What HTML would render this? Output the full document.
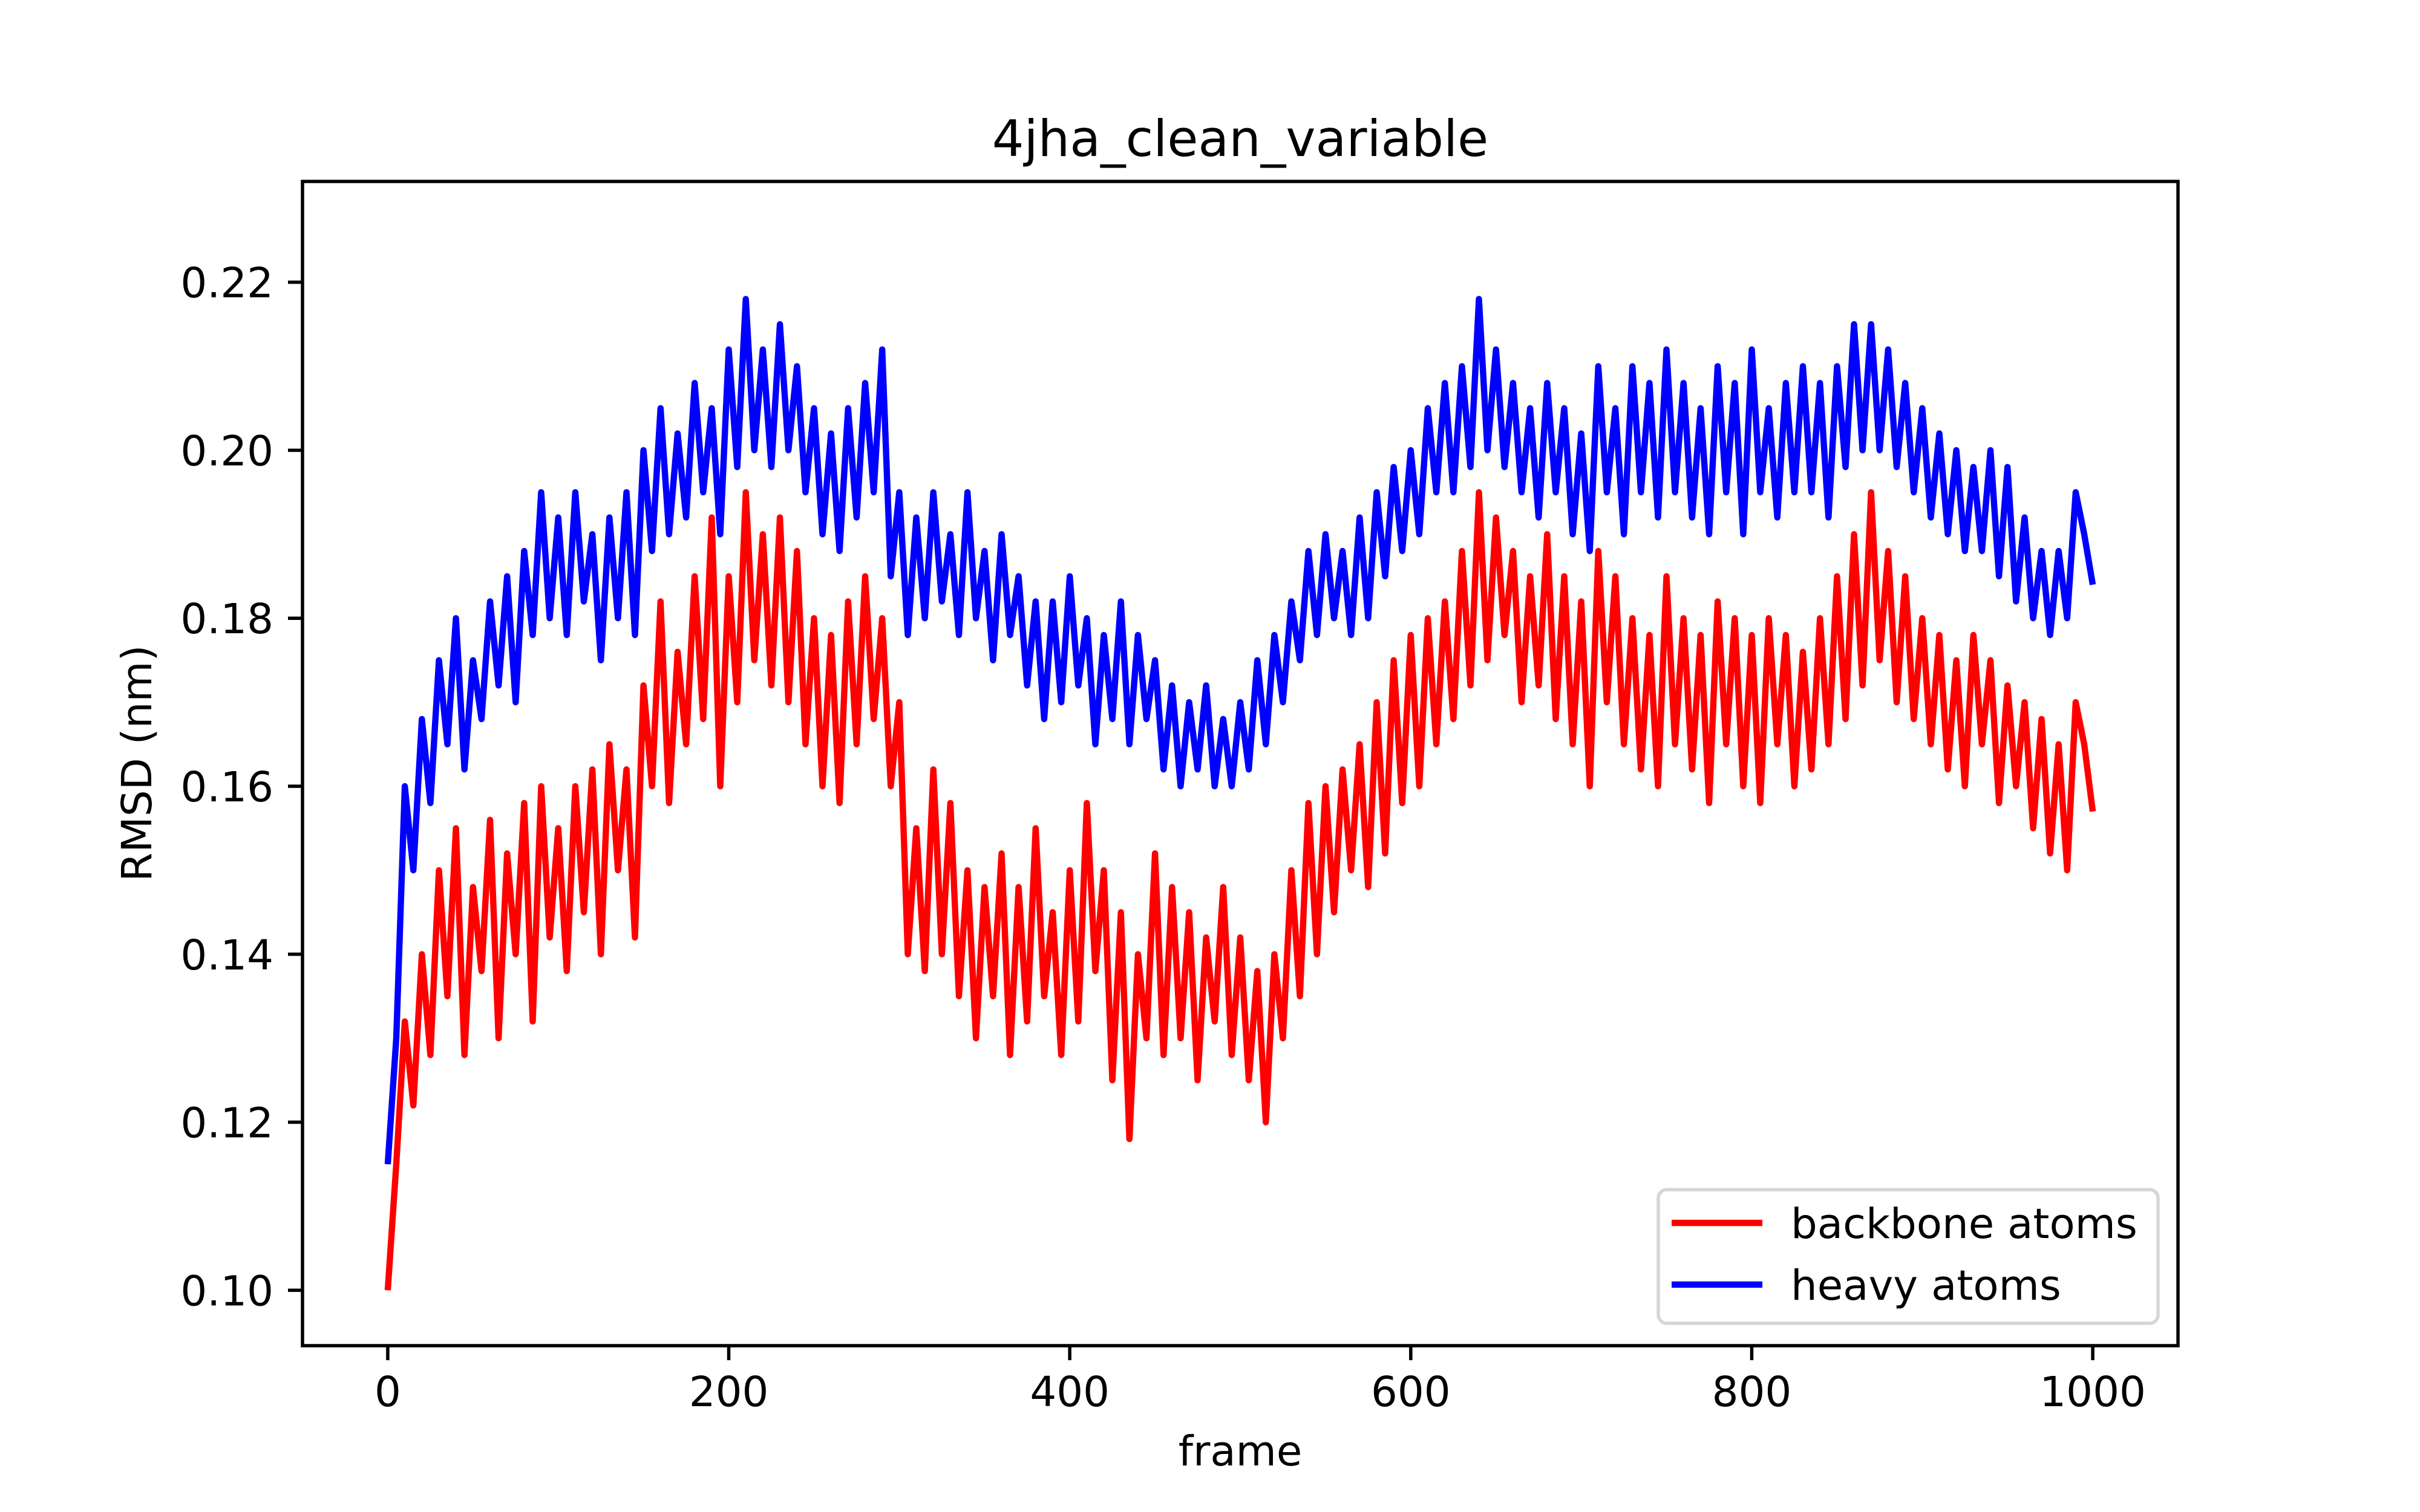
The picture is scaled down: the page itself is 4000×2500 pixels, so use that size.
<!DOCTYPE html>
<html><head><meta charset="utf-8"><style>
html,body{margin:0;padding:0;background:#fff;}
svg{display:block;font-family:"DejaVu Sans","Liberation Sans",sans-serif;}
</style></head><body>
<svg id="chart" width="4000" height="2500" viewBox="0 0 4000 2500" xmlns="http://www.w3.org/2000/svg">
<rect width="4000" height="2500" fill="#fff"/>
<text x="2050" y="258" font-size="83" text-anchor="middle">4jha_clean_variable</text>
<g id="plot"></g>
<rect x="500" y="300" width="3100" height="1925" fill="none" stroke="#000" stroke-width="5.5"/>
<g id="xticks"></g><g id="yticks"></g>
<text x="2050" y="2423" font-size="69" text-anchor="middle">frame</text>
<text transform="translate(250,1262) rotate(-90)" font-size="69" text-anchor="middle">RMSD (nm)</text>
<g>
<rect x="2741" y="1967" width="826" height="221" rx="14" fill="#fff" fill-opacity="0.8" stroke="#d6d6d6" stroke-width="5.5"/>
<g>
<line x1="2763" y1="2022" x2="2913" y2="2022" stroke="#ff0000" stroke-width="10.4"/>
<text x="2960" y="2047" font-size="69">backbone atoms</text></g>
<g>
<line x1="2763" y1="2124" x2="2913" y2="2124" stroke="#0000ff" stroke-width="10.4"/>
<text x="2960" y="2149" font-size="69">heavy atoms</text></g>
</g>
</svg>
<script>
const frameStep = 5;
const xTickValues = [0, 200, 400, 600, 800, 1000];
const yTickValues = [0.10, 0.12, 0.14, 0.16, 0.18, 0.20, 0.22];
const yTickLabels = ["0.10","0.12","0.14","0.16","0.18","0.20","0.22"];
const backbone = [0.100,0.115,0.132,0.122,0.140,0.128,0.150,0.135,0.155,0.128,0.148,0.138,0.156,0.130,0.152,0.140,0.158,0.132,0.160,0.142,
0.155,0.138,0.160,0.145,0.162,0.140,0.165,0.150,0.162,0.142,0.172,0.160,0.182,0.158,0.176,0.165,0.185,0.168,0.192,0.160,
0.185,0.170,0.195,0.175,0.190,0.172,0.192,0.170,0.188,0.165,0.180,0.160,0.178,0.158,0.182,0.165,0.185,0.168,0.180,0.160,
0.170,0.140,0.155,0.138,0.162,0.140,0.158,0.135,0.150,0.130,0.148,0.135,0.152,0.128,0.148,0.132,0.155,0.135,0.145,0.128,
0.150,0.132,0.158,0.138,0.150,0.125,0.145,0.118,0.140,0.130,0.152,0.128,0.148,0.130,0.145,0.125,0.142,0.132,0.148,0.128,
0.142,0.125,0.138,0.120,0.140,0.130,0.150,0.135,0.158,0.140,0.160,0.145,0.162,0.150,0.165,0.148,0.170,0.152,0.175,0.158,
0.178,0.160,0.180,0.165,0.182,0.168,0.188,0.172,0.195,0.175,0.192,0.178,0.188,0.170,0.185,0.172,0.190,0.168,0.185,0.165,
0.182,0.160,0.188,0.170,0.185,0.165,0.180,0.162,0.178,0.160,0.185,0.165,0.180,0.162,0.178,0.158,0.182,0.165,0.180,0.160,
0.178,0.158,0.180,0.165,0.178,0.160,0.176,0.162,0.180,0.165,0.185,0.168,0.190,0.172,0.195,0.175,0.188,0.170,0.185,0.168,
0.180,0.165,0.178,0.162,0.175,0.160,0.178,0.165,0.175,0.158,0.172,0.160,0.170,0.155,0.168,0.152,0.165,0.150,0.170,0.165,0.157];
const heavy = [0.115,0.130,0.160,0.150,0.168,0.158,0.175,0.165,0.180,0.162,0.175,0.168,0.182,0.172,0.185,0.170,0.188,0.178,0.195,0.180,
0.192,0.178,0.195,0.182,0.190,0.175,0.192,0.180,0.195,0.178,0.200,0.188,0.205,0.190,0.202,0.192,0.208,0.195,0.205,0.190,
0.212,0.198,0.218,0.200,0.212,0.198,0.215,0.200,0.210,0.195,0.205,0.190,0.202,0.188,0.205,0.192,0.208,0.195,0.212,0.185,
0.195,0.178,0.192,0.180,0.195,0.182,0.190,0.178,0.195,0.180,0.188,0.175,0.190,0.178,0.185,0.172,0.182,0.168,0.182,0.170,
0.185,0.172,0.180,0.165,0.178,0.168,0.182,0.165,0.178,0.168,0.175,0.162,0.172,0.160,0.170,0.162,0.172,0.160,0.168,0.160,
0.170,0.162,0.175,0.165,0.178,0.170,0.182,0.175,0.188,0.178,0.190,0.180,0.188,0.178,0.192,0.180,0.195,0.185,0.198,0.188,
0.200,0.190,0.205,0.195,0.208,0.195,0.210,0.198,0.218,0.200,0.212,0.198,0.208,0.195,0.205,0.192,0.208,0.195,0.205,0.190,
0.202,0.188,0.210,0.195,0.205,0.190,0.210,0.195,0.208,0.192,0.212,0.195,0.208,0.192,0.205,0.190,0.210,0.195,0.208,0.190,
0.212,0.195,0.205,0.192,0.208,0.195,0.210,0.195,0.208,0.192,0.210,0.198,0.215,0.200,0.215,0.200,0.212,0.198,0.208,0.195,
0.205,0.192,0.202,0.190,0.200,0.188,0.198,0.188,0.200,0.185,0.198,0.182,0.192,0.180,0.188,0.178,0.188,0.180,0.195,0.190,0.184];

const X0=500, X1=3600, Y0=300, Y1=2225, XMIN=-50, XMAX=1050, YMIN=0.0934, YMAX=0.2320;
function xs(v){return X0+(v-XMIN)/(XMAX-XMIN)*(X1-X0);}
function ys(v){return Y1-(v-YMIN)/(YMAX-YMIN)*(Y1-Y0);}
const NS="http://www.w3.org/2000/svg";
const plot=document.getElementById('plot');
function series(vals,color,name){
  const p=document.createElementNS(NS,'polyline');
  p.setAttribute('points',vals.map((v,i)=>xs(i*frameStep).toFixed(1)+','+ys(v).toFixed(1)).join(' '));
  p.setAttribute('fill','none');p.setAttribute('stroke',color);p.setAttribute('stroke-width','10.4');
  p.setAttribute('stroke-linejoin','round');
  
  
  plot.appendChild(p);
}
series(backbone,'#ff0000','backbone-line');
series(heavy,'#0000ff','heavy-line');
const xt=document.getElementById('xticks');
xTickValues.forEach(v=>{
  const g=document.createElementNS(NS,'g');
  
  
  const x=xs(v);
  g.innerHTML='<line x1="'+x+'" y1="2225" x2="'+x+'" y2="2249" stroke="#000" stroke-width="5.5"/><text x="'+x+'" y="2325" font-size="69" text-anchor="middle">'+v+'</text>';
  xt.appendChild(g);
});
const yt=document.getElementById('yticks');
yTickValues.forEach((v,i)=>{
  const g=document.createElementNS(NS,'g');
  
  
  const y=ys(v);
  g.innerHTML='<line x1="476" y1="'+y+'" x2="500" y2="'+y+'" stroke="#000" stroke-width="5.5"/><text x="452" y="'+(y+25)+'" font-size="69" text-anchor="end">'+yTickLabels[i]+'</text>';
  yt.appendChild(g);
});
</script>
</body></html>
